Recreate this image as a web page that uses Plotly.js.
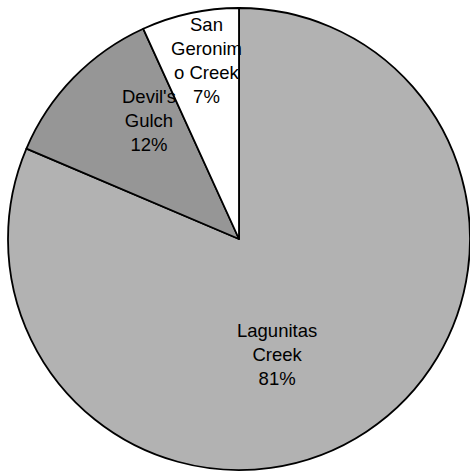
<!DOCTYPE html>
<html>
<head>
<meta charset="utf-8">
<script src="https://cdn.plot.ly/plotly-3.0.1.min.js"></script>
<style>html,body{margin:0;padding:0;background:#fff;}#chart{width:470px;height:471px;}</style>
</head>
<body>
<div id="chart"></div>
<script>
var categories = ["Lagunitas Creek", "Devil's Gulch", "San Geronimo Creek"];
var labelLines = ["Lagunitas<br>Creek", "Devil's<br>Gulch", "San<br>Geronim<br>o Creek"];
var shares = [81.4, 11.8, 6.8];
var sliceColors = ["#b2b2b2", "#969696", "#ffffff"];
// label anchor positions (paper fractions) matching the reference layout
var labelX = [0.5887, 0.3177, 0.4398];
var labelY = [0.2463, 0.7437, 0.8726];

var trace = {
  type: "pie",
  labels: categories,
  values: shares,
  sort: false,
  direction: "clockwise",
  rotation: 0,
  domain: {x: [8 / 470, 1], y: [0, 1 - 7 / 471]},
  marker: {colors: sliceColors, line: {color: "#000000", width: 1.8}},
  textinfo: "none",
  hoverinfo: "none",
  showlegend: false
};

var total = shares.reduce(function (a, b) { return a + b; }, 0);
var annotations = labelLines.map(function (t, i) {
  return {
    xref: "paper", yref: "paper",
    x: labelX[i], y: labelY[i],
    xanchor: "center", yanchor: "middle",
    text: t + "<br>" + Math.round(shares[i] / total * 100) + "%",
    showarrow: false,
    align: "center",
    font: {family: "Liberation Sans, Arial, sans-serif", size: 18.5, color: "#000000"}
  };
});

var layout = {
  width: 470, height: 471,
  margin: {l: 0, r: 0, t: 0, b: 0},
  paper_bgcolor: "#ffffff",
  plot_bgcolor: "#ffffff",
  showlegend: false,
  annotations: annotations
};

Plotly.newPlot("chart", [trace], layout, {displayModeBar: false, staticPlot: true});
</script>
</body>
</html>
